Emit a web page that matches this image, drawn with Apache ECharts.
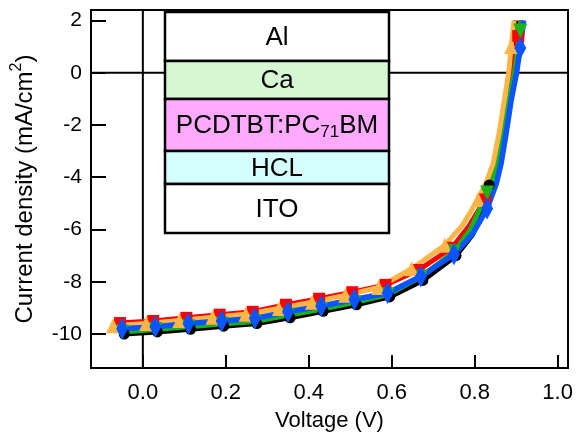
<!DOCTYPE html>
<html>
<head>
<meta charset="utf-8">
<script src="https://cdn.jsdelivr.net/npm/echarts@6/dist/echarts.min.js"></script>
<style>
html,body{margin:0;padding:0;background:#fff;}
#chart{width:581px;height:437px;}
</style>
</head>
<body>
<div id="chart"></div>
<script>
// J-V curves (voltage in V, current density in mA/cm2)
var vBlack  = [-0.045,0.035,0.115,0.195,0.275,0.355,0.435,0.515,0.595,0.675,0.755,0.795,0.835,0.850,0.866,0.878,0.888,0.895,0.900];
var jBlack  = [-10.00,-9.92,-9.82,-9.70,-9.60,-9.38,-9.13,-8.88,-8.58,-7.95,-7.00,-6.20,-4.30,-3.50,-2.30,-1.00,0.00,0.90,2.00];

var vRed    = [-0.055,0.025,0.105,0.185,0.265,0.345,0.425,0.505,0.585,0.665,0.745,0.785,0.825,0.850,0.864,0.878,0.891,0.900,0.905,0.912];
var jRed    = [-9.58,-9.50,-9.38,-9.26,-9.15,-8.88,-8.65,-8.40,-8.12,-7.55,-6.70,-5.90,-4.85,-3.55,-2.30,-1.00,0.00,0.90,1.40,2.00];

var vOrange = [-0.072,0.008,0.088,0.168,0.248,0.328,0.408,0.488,0.568,0.648,0.728,0.770,0.808,0.828,0.844,0.859,0.872,0.882,0.888,0.895];
var jOrange = [-9.68,-9.60,-9.48,-9.36,-9.24,-9.02,-8.78,-8.52,-8.22,-7.50,-6.60,-5.85,-4.85,-4.20,-3.50,-2.30,-1.00,0.00,1.00,2.00];

var vGreen  = [-0.05,0.03,0.11,0.19,0.27,0.35,0.43,0.51,0.59,0.67,0.75,0.79,0.83,0.855,0.868,0.883,0.896,0.905,0.910,0.914];
var jGreen  = [-9.92,-9.83,-9.72,-9.62,-9.52,-9.28,-9.05,-8.80,-8.50,-7.82,-6.85,-6.00,-4.60,-3.50,-2.30,-1.00,0.00,1.00,1.60,2.00];

var vBlue   = [-0.05,0.03,0.11,0.19,0.27,0.35,0.43,0.51,0.59,0.67,0.75,0.795,0.83,0.852,0.864,0.876,0.888,0.901,0.910,0.918];
var jBlue   = [-9.80,-9.72,-9.60,-9.50,-9.40,-9.15,-8.93,-8.68,-8.43,-7.80,-6.95,-6.17,-5.20,-4.25,-3.45,-2.30,-1.05,0.00,0.95,2.00];

// markers sit every 80 mV from each curve's first point
var markerStep = 0.08;

var xMin = -0.125, xMax = 1.025;
var yMin = -11.3, yMax = 2.4;

var layerNames = ['Al', 'Ca', 'PCDTBT:PC71BM', 'HCL', 'ITO'];
var layerColors = ['#ffffff', '#d5f8d3', '#ffaaff', '#d5ffff', '#ffffff'];

var FONT = "'Liberation Sans', Arial, sans-serif";

function makeData(v, j) {
    var out = [];
    for (var i = 0; i < v.length; i++) {
        var item = {value: [v[i], j[i]]};
        var k = (v[i] - v[0]) / markerStep;
        if (Math.abs(k - Math.round(k)) > 0.02) item.symbol = 'none';
        out.push(item);
    }
    return out;
}

function curve(name, v, j, color, symbol, size, rotate, width) {
    return {
        name: name,
        type: 'line',
        z: 3,
        data: makeData(v, j),
        showSymbol: true,
        showAllSymbol: true,
        symbol: symbol,
        symbolSize: size,
        symbolRotate: rotate || 0,
        lineStyle: {color: color, width: width || 4.5, join: 'round'},
        itemStyle: {color: color, borderWidth: 0},
        emphasis: {disabled: true}
    };
}

var chart = echarts.init(document.getElementById('chart'));

// inset: device stack
var rowH = [49, 38, 52, 33, 49];
var boxX = 165, boxY = 12, boxW = 224;
var graphics = [];
var yy = boxY;
for (var k = 0; k < layerNames.length; k++) {
    graphics.push({
        type: 'rect',
        shape: {x: boxX, y: yy, width: boxW, height: rowH[k]},
        style: {fill: layerColors[k], stroke: '#000', lineWidth: 2.5},
        z: 100
    });
    var txt = layerNames[k];
    var rich = {
        a: {fontSize: 26, fontFamily: FONT, color: '#000'},
        s: {fontSize: 17, fontFamily: FONT, color: '#000', padding: [13, 0, 0, 0]}
    };
    if (txt.indexOf('71') >= 0) {
        txt = '{a|' + txt.split('71')[0] + '}{s|71}{a|' + txt.split('71')[1] + '}';
    } else {
        txt = '{a|' + txt + '}';
    }
    graphics.push({
        type: 'text',
        z: 101,
        style: {
            text: txt,
            rich: rich,
            x: boxX + boxW / 2,
            y: yy + rowH[k] / 2 + 1,
            align: 'center',
            verticalAlign: 'middle'
        }
    });
    yy += rowH[k];
}

var option = {
    animation: false,
    backgroundColor: '#fff',
    grid: {
        left: 91, right: 13, top: 10, bottom: 65,
        show: true, borderColor: '#000', borderWidth: 2, backgroundColor: 'transparent'
    },
    xAxis: {
        type: 'value',
        min: xMin, max: xMax,
        splitNumber: 5,
        name: 'Voltage (V)',
        nameLocation: 'middle',
        nameGap: 42,
        nameTextStyle: {fontSize: 22, fontFamily: FONT, color: '#000'},
        axisLine: {show: true, onZero: false, lineStyle: {color: '#000', width: 2}},
        axisTick: {show: true, inside: true, length: 13, lineStyle: {color: '#000', width: 2}},
        axisLabel: {
            fontSize: 22, fontFamily: FONT, color: '#000', margin: 14,
            formatter: function (v) {
                if (Math.abs(v / 0.2 - Math.round(v / 0.2)) > 1e-6) return '';
                return Math.abs(v) < 1e-9 ? '0.0' : v.toFixed(1);
            }
        },
        splitLine: {show: false}
    },
    yAxis: {
        type: 'value',
        min: yMin, max: yMax,
        splitNumber: 7,
        name: '{a|Current density (mA/cm}{s|2}{a|)}',
        nameLocation: 'middle',
        nameGap: 50,
        nameRotate: 90,
        nameTextStyle: {
            rich: {
                a: {fontSize: 24, fontFamily: FONT, color: '#000'},
                s: {fontSize: 16, fontFamily: FONT, color: '#000', padding: [0, 0, 16, 0]}
            }
        },
        axisLine: {show: true, onZero: false, lineStyle: {color: '#000', width: 2}},
        axisTick: {show: true, inside: true, length: 15, lineStyle: {color: '#000', width: 2}},
        axisLabel: {
            fontSize: 21, fontFamily: FONT, color: '#000', margin: 9,
            formatter: function (v) {
                if (Math.abs(v / 2 - Math.round(v / 2)) > 1e-6) return '';
                return String(Math.round(v));
            }
        },
        splitLine: {show: false}
    },
    series: [
        // zero reference lines
        {
            type: 'line', z: 1, symbol: 'none', silent: true,
            data: [[xMin, 0], [xMax, 0]],
            lineStyle: {color: '#000', width: 2}
        },
        {
            type: 'line', z: 1, symbol: 'none', silent: true,
            data: [[0, yMin], [0, yMax]],
            lineStyle: {color: '#000', width: 2}
        },
        curve('black', vBlack, jBlack, '#000000', 'circle', 11, 0, 5),
        curve('red', vRed, jRed, '#ff0000', 'rect', 12, 0, 5),
        curve('green', vGreen, jGreen, '#17b317', 'triangle', [14, 15], 180, 5),
        curve('orange', vOrange, jOrange, '#ffb547', 'triangle', [14, 15], 0, 5),
        curve('blue', vBlue, jBlue, '#0a55ff', 'diamond', [12, 22], 0, 5.5)
    ],
    graphic: graphics
};

chart.setOption(option);
</script>
</body>
</html>
